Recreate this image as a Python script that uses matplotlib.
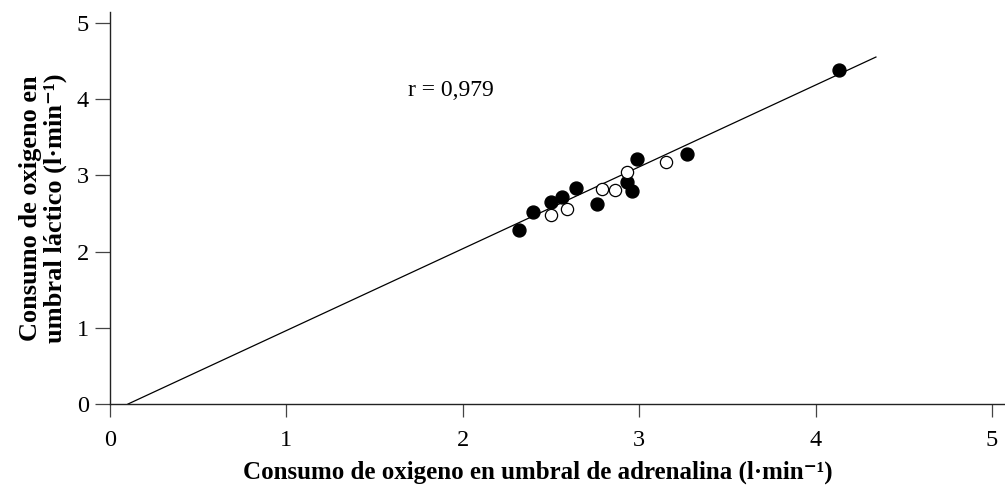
import matplotlib
matplotlib.use("Agg")
import matplotlib.pyplot as plt
import numpy as np

plt.rcParams["font.family"] = ["Liberation Serif", "DejaVu Serif"]

# Oxygen uptake at the adrenaline threshold (x) vs lactate threshold (y), l/min
adren_filled = [2.32, 2.40, 2.50, 2.56, 2.64, 2.76, 2.93, 2.96, 2.99, 3.27, 4.13]
lact_filled = [2.28, 2.52, 2.65, 2.72, 2.83, 2.62, 2.91, 2.79, 3.21, 3.28, 4.38]

adren_open = [2.50, 2.59, 2.79, 2.86, 2.93, 3.15]
lact_open = [2.48, 2.56, 2.82, 2.81, 3.05, 3.17]

# Regression line
fit_slope = 1.074
fit_intercept = -0.110
fit_x = [0.102, 4.342]
r_text = "r = 0,979"

ticks = [0, 1, 2, 3, 4, 5]

fig = plt.figure(figsize=(10.05, 4.91), dpi=100)
ax = fig.add_axes([0.10945, 0.17719, 0.8899, 0.7977])
ax.set_xlim(0, 5.07)
ax.set_ylim(0, 5.14)

fx = np.array(fit_x)
ax.plot(fx, fit_slope * fx + fit_intercept, color="black", lw=0.9, zorder=2)

ax.plot(adren_filled, lact_filled, "o", color="black", markersize=9.3,
        linestyle="none", zorder=3, clip_on=False)
ax.plot(adren_open, lact_open, "o", markerfacecolor="white",
        markeredgecolor="black", markeredgewidth=0.9, markersize=8.8,
        linestyle="none", zorder=3, clip_on=False)

ax.text(1.69, 4.11, r_text, fontsize=17, ha="left", va="center")

for side in ("top", "right"):
    ax.spines[side].set_visible(False)
for side in ("left", "bottom"):
    ax.spines[side].set_linewidth(1.0)
    ax.spines[side].set_color("#222222")

ax.set_xticks(ticks)
ax.set_yticks(ticks)
ax.set_xticklabels([str(t) for t in ticks])
ax.set_yticklabels([str(t) for t in ticks])
ax.tick_params(axis="x", direction="out", length=9.4, width=0.9,
               color="#444444", pad=9.0, labelsize=17.5)
ax.tick_params(axis="y", direction="out", length=10.8, width=0.9,
               color="#444444", pad=4.3, labelsize=17.5)

ax.set_xlabel("Consumo de oxigeno en umbral de adrenalina (l·min\u207b\u00b9)",
              fontsize=18, fontweight="bold", va="center")
ax.xaxis.set_label_coords(0.478, -0.1736)

ax.set_ylabel("Consumo de oxigeno en\numbral láctico (l·min\u207b\u00b9)",
              fontsize=19, fontweight="bold", va="center", ha="center",
              multialignment="center", linespacing=1.1)
ax.yaxis.set_label_coords(-0.075, 0.5)

fig.savefig("out.png", dpi=100)
